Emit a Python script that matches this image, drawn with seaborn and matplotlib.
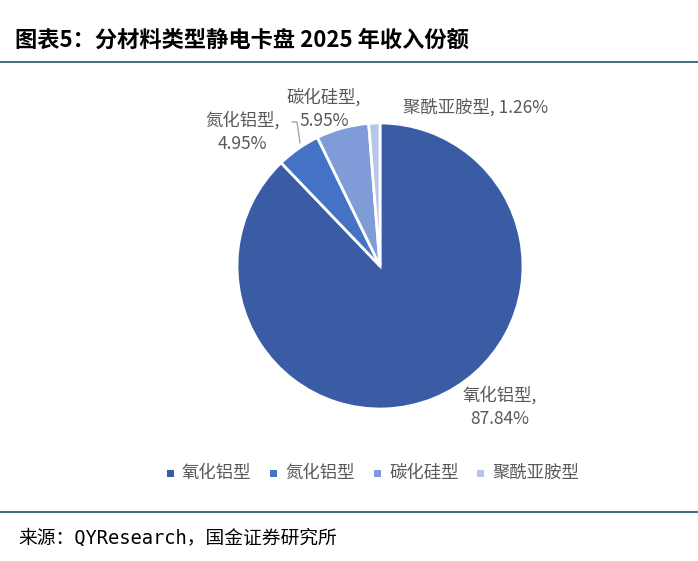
import numpy as np
import seaborn as sns
import matplotlib.pyplot as plt
from matplotlib.lines import Line2D
from matplotlib.patches import Rectangle

# data
materials = ["氧化铝型", "氮化铝型", "碳化硅型", "聚酰亚胺型"]
shares = [87.84, 4.95, 5.95, 1.26]
colors = ["#3A5CA4", "#4472C4", "#7F9BD8", "#B7C5E8"]

sns.set_theme(style="white")
plt.rcParams['font.family'] = ['Noto Sans CJK SC', 'DejaVu Sans']

W, H = 698, 561
fig = plt.figure(figsize=(W / 100, H / 100), dpi=100)

# pie axes: center (380, 266) px, radius 143 px
cx, cy, r = 380, 266, 143
ax = fig.add_axes([(cx - r) / W, (H - cy - r) / H, 2 * r / W, 2 * r / H])
wedges, _ = ax.pie(shares, colors=colors, startangle=90, counterclock=False,
                   radius=1.0, wedgeprops=dict(edgecolor="white", linewidth=2))
ax.set_xlim(-1, 1)
ax.set_ylim(-1, 1)
ax.set_aspect("equal")
ax.axis("off")

# data labels (pixel positions of the text centres)
lab_col = "#595959"
label_pos = [(500, 407, "center"), (242, 132, "center"), (324, 109, "center"), (403, 107, "left")]
for i, (name, val) in enumerate(zip(materials, shares)):
    x, y, ha = label_pos[i]
    if i == 3:
        txt = f"{name}, {val:.2f}%"
    else:
        txt = f"{name},\n{val:.2f}%"
    fig.text(x / W, 1 - y / H, txt, ha=ha, va="center", fontsize=12.5,
             color=lab_col, linespacing=1.45)

# leader line for 氮化铝型
fig.add_artist(Line2D([292 / W, 297 / W, 300 / W],
                      [1 - 122 / H, 1 - 122 / H, 1 - 143 / H],
                      color="#A6A6A6", linewidth=1))

# legend
leg_x = [170, 273, 377, 480]
for x, name, c in zip(leg_x, materials, colors):
    fig.add_artist(Rectangle(((x - 3) / W, 1 - 477 / H), 7 / W, 7 / H,
                             facecolor=c, edgecolor="none"))
    fig.text((x + 12) / W, 1 - 473 / H, name, ha="left", va="center",
             fontsize=12.5, color=lab_col)

# title and rules
fig.text(15 / W, 1 - 40 / H, "图表5：分材料类型静电卡盘 2025 年收入份额",
         ha="left", va="center", fontsize=16, fontweight="bold",
         fontstyle="italic", color="black")
rule_col = "#1D5468"
fig.add_artist(Line2D([0, 1], [1 - 62 / H, 1 - 62 / H], color=rule_col, linewidth=1.2))
fig.add_artist(Line2D([0, 1], [1 - 512 / H, 1 - 512 / H], color=rule_col, linewidth=1.2))

fig.text(18 / W, 1 - 538 / H, "来源：QYResearch，国金证券研究所",
         ha="left", va="center", fontsize=13.5, color="black",
         family=['DejaVu Sans Mono', 'Noto Sans CJK SC'])

fig.savefig("out.png", dpi=100)
